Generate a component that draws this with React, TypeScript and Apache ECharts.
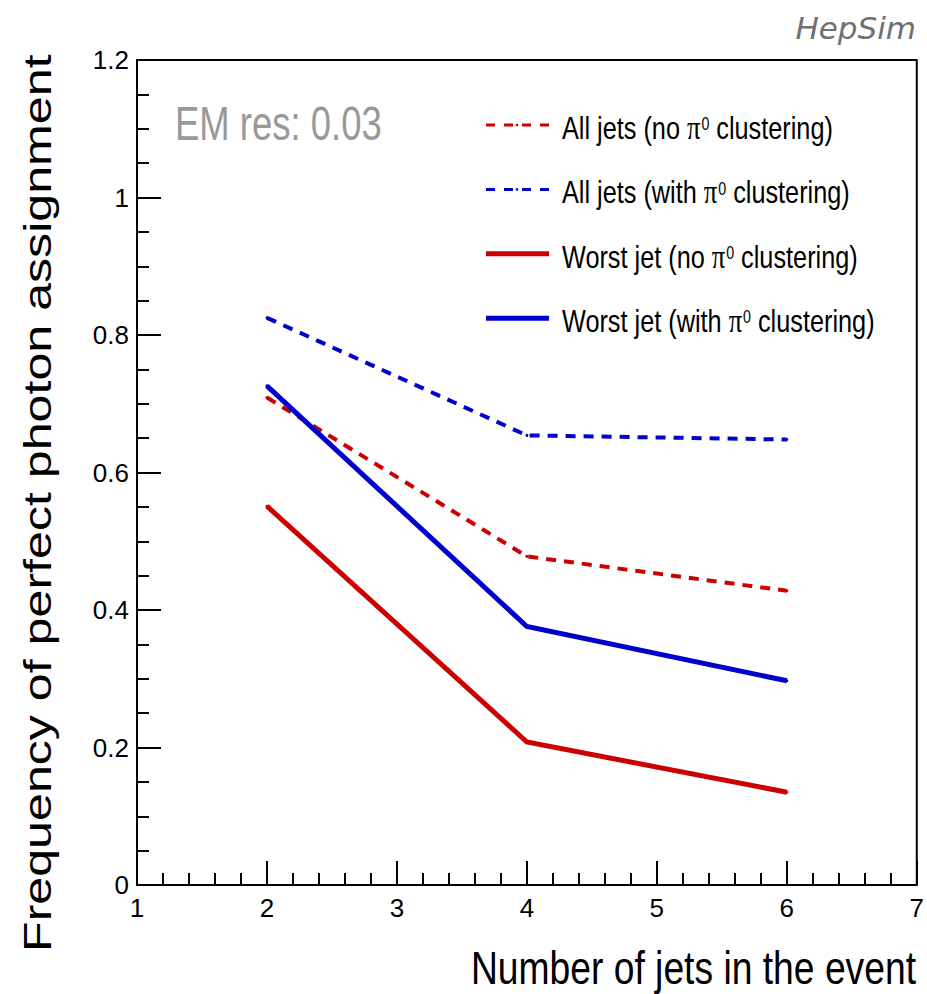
import React, { useEffect, useRef } from "react";
import * as echarts from "echarts";

// Number of jets in the event (x positions of the points)
const jetCounts = [2, 4, 6];

// Frequency of perfect photon assignment for each configuration
const allJetsNoPi0 = [0.709, 0.478, 0.428];
const allJetsWithPi0 = [0.825, 0.654, 0.648];
const worstJetNoPi0 = [0.551, 0.208, 0.135];
const worstJetWithPi0 = [0.726, 0.376, 0.297];

const seriesNames = [
  "All jets (no π0 clustering)",
  "All jets (with π0 clustering)",
  "Worst jet (no π0 clustering)",
  "Worst jet (with π0 clustering)",
];

const xTicks = [1, 2, 3, 4, 5, 6, 7];
const yTicks = [0, 0.2, 0.4, 0.6, 0.8, 1, 1.2];

const SANS = '"Liberation Sans", Arial, sans-serif';
const SERIF = '"Liberation Serif", "DejaVu Serif", serif';
const RED = "#cc0000";
const BLUE = "#0000cc";
// Horizontal squeeze applied to the ROOT-style condensed lettering
const SQUEEZE = 0.79;

const toPoints = (ys: number[]) => ys.map((y, i) => [jetCounts[i], y]);

export default function App() {
  const ref = useRef<HTMLDivElement>(null);

  useEffect(() => {
    if (!ref.current) return;
    const chart = echarts.init(ref.current, undefined, { renderer: "svg" });

    const styles = [
      { color: RED, dashed: true },
      { color: BLUE, dashed: true },
      { color: RED, dashed: false },
      { color: BLUE, dashed: false },
    ];

    const lineSeries = (name: string, ys: number[], color: string, dashed: boolean) => ({
      name,
      type: "line",
      data: toPoints(ys),
      symbol: "circle",
      symbolSize: 3,
      showSymbol: true,
      lineStyle: {
        color,
        width: dashed ? 4 : 5,
        type: dashed ? [10, 8] : "solid",
        cap: "butt",
        join: "miter",
      },
      itemStyle: { color, borderWidth: 0 },
      emphasis: { disabled: true },
    });

    // Hand-placed legend: a line sample followed by the label, one row per series
    const legendTop = 128;
    const legendStep = 64.4;
    const legendItems: any[] = [];
    seriesNames.forEach((name, i) => {
      const y = legendTop + i * legendStep;
      const st = styles[i];
      legendItems.push({
        type: "line",
        shape: { x1: 486, y1: y - 3, x2: 549, y2: y - 3 },
        style: {
          stroke: st.color,
          lineWidth: st.dashed ? 3 : 5,
          lineDash: st.dashed ? [9, 9] : null,
        },
        silent: true,
      });
      if (st.dashed) {
        legendItems.push({
          type: "circle",
          shape: { cx: 517, cy: y - 3, r: 1.3 },
          style: { fill: st.color },
          silent: true,
        });
      }
      const [before, after] = name.split("π0");
      legendItems.push({
        type: "text",
        x: 562,
        y,
        scaleX: SQUEEZE,
        silent: true,
        style: {
          text: `${before}{pi|π}{sup|0}${after}`,
          fontFamily: SANS,
          fontSize: 32,
          fill: "#000",
          align: "left",
          verticalAlign: "middle",
          rich: {
            pi: { fontFamily: SERIF, fontSize: 34, fill: "#000", padding: [0, 1, 0, 0] },
            sup: { fontFamily: SANS, fontSize: 18, fill: "#000", padding: [0, 0, 9, 0] },
          },
        },
      });
    });

    chart.setOption({
      animation: false,
      backgroundColor: "#ffffff",
      grid: {
        left: 137,
        right: 10,
        top: 60,
        bottom: 109,
        show: true,
        borderColor: "#000",
        borderWidth: 2,
        backgroundColor: "transparent",
      },
      xAxis: {
        type: "value",
        min: xTicks[0],
        max: xTicks[xTicks.length - 1],
        interval: 1,
        axisLine: { show: true, onZero: false, lineStyle: { color: "#000", width: 2 } },
        axisTick: { show: true, inside: true, length: 24, lineStyle: { color: "#000", width: 2 } },
        minorTick: { show: true, splitNumber: 5, length: 12, lineStyle: { color: "#000", width: 2 } },
        splitLine: { show: false },
        axisLabel: {
          margin: 10,
          color: "#000",
          fontFamily: SANS,
          fontSize: 26,
          formatter: (v: number) => (xTicks.includes(v) ? String(v) : ""),
          showMinLabel: true,
          showMaxLabel: true,
        },
      },
      yAxis: {
        type: "value",
        min: yTicks[0],
        max: yTicks[yTicks.length - 1],
        interval: 0.2,
        axisLine: { show: true, onZero: false, lineStyle: { color: "#000", width: 2 } },
        axisTick: { show: true, inside: true, length: 24, lineStyle: { color: "#000", width: 2 } },
        minorTick: { show: true, splitNumber: 4, length: 12, lineStyle: { color: "#000", width: 2 } },
        splitLine: { show: false },
        axisLabel: {
          margin: 8,
          color: "#000",
          fontFamily: SANS,
          fontSize: 26,
          formatter: (v: number) => String(Math.round(v * 10) / 10),
          showMinLabel: true,
          showMaxLabel: true,
        },
      },
      graphic: [
        {
          type: "text",
          x: 38,
          y: 952,
          rotation: Math.PI / 2,
          scaleX: 1.32,
          silent: true,
          style: {
            text: "Frequency of perfect photon assignment",
            fontFamily: SANS,
            fontSize: 38,
            fill: "#000",
            align: "left",
            verticalAlign: "middle",
          },
        },
        {
          type: "text",
          x: 916,
          y: 968,
          scaleX: 0.81,
          silent: true,
          style: {
            text: "Number of jets in the event",
            fontFamily: SANS,
            fontSize: 46,
            fill: "#000",
            align: "right",
            verticalAlign: "middle",
          },
        },
        {
          type: "text",
          x: 175,
          y: 123,
          scaleX: 0.76,
          silent: true,
          style: {
            text: "EM res: 0.03",
            fontFamily: SANS,
            fontSize: 48,
            fill: "#999999",
            align: "left",
            verticalAlign: "middle",
          },
        },
        {
          type: "text",
          x: 916,
          y: 28,
          silent: true,
          style: {
            text: "HepSim",
            fontFamily: '"DejaVu Sans", sans-serif',
            fontStyle: "italic",
            fontSize: 31,
            fill: "#707070",
            align: "right",
            verticalAlign: "middle",
          },
        },
        ...legendItems,
      ],
      series: [
        lineSeries(seriesNames[0], allJetsNoPi0, styles[0].color, styles[0].dashed),
        lineSeries(seriesNames[1], allJetsWithPi0, styles[1].color, styles[1].dashed),
        lineSeries(seriesNames[2], worstJetNoPi0, styles[2].color, styles[2].dashed),
        lineSeries(seriesNames[3], worstJetWithPi0, styles[3].color, styles[3].dashed),
      ],
    });

    return () => chart.dispose();
  }, []);

  return (
    <div
      ref={ref}
      style={{ position: "fixed", left: 0, top: 0, width: 927, height: 994, background: "#fff" }}
    />
  );
}
